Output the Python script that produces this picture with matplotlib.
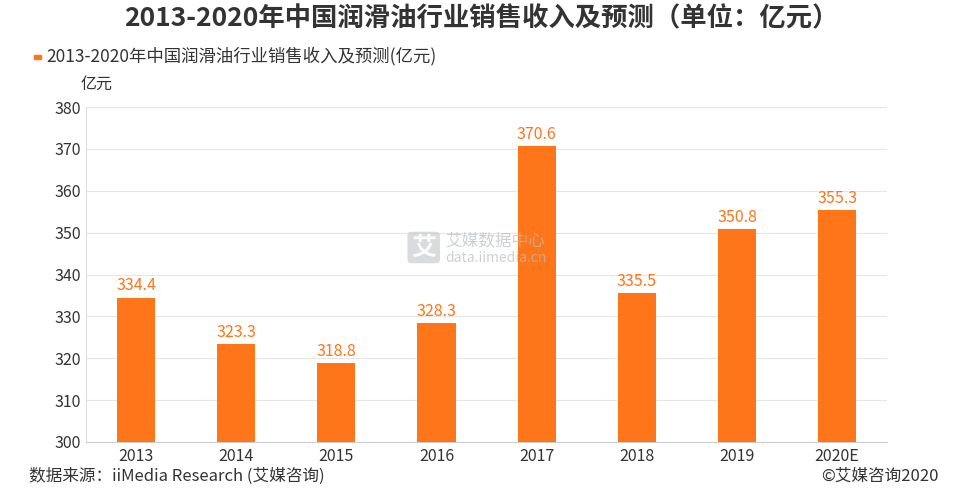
import matplotlib.pyplot as plt
from matplotlib.patches import Rectangle

plt.rcParams['font.family'] = ['Noto Sans CJK SC', 'DejaVu Sans']

years = ['2013', '2014', '2015', '2016', '2017', '2018', '2019', '2020E']
sales = [334.4, 323.3, 318.8, 328.3, 370.6, 335.5, 350.8, 355.3]

orange = '#FF7519'

fig = plt.figure(figsize=(9.63, 5.0), dpi=100)
ax = fig.add_axes([0.0893, 0.116, 0.832, 0.670])

x = range(len(years))
ax.bar(x, sales, width=0.38, color=orange, zorder=3)
for i, v in zip(x, sales):
    ax.text(i, v + 0.9, f'{v:.1f}', ha='center', va='bottom', color=orange, fontsize=11.5)

ax.set_xlim(-0.5, len(years) - 0.5)
ax.set_ylim(300, 380)
ax.set_yticks(range(300, 381, 10))
ax.set_xticks(list(x))
ax.set_xticklabels(years)
ax.tick_params(axis='both', length=0, labelsize=11.5, colors='#333333')
ax.tick_params(axis='x', pad=4)
ax.grid(axis='y', color='#E6E6E6', lw=0.8, zorder=0)
for s in ['top', 'right']:
    ax.spines[s].set_visible(False)
ax.spines['left'].set_color('#E0E0E0')
ax.spines['bottom'].set_color('#CCCCCC')

fig.text(0.5, 0.962, '2013-2020年中国润滑油行业销售收入及预测（单位：亿元）',
         ha='center', va='center', fontsize=19, fontweight='bold', color='#333333')
fig.patches.append(Rectangle((0.035, 0.883), 0.008, 0.008, transform=fig.transFigure,
                             color=orange))
fig.text(0.048, 0.887, '2013-2020年中国润滑油行业销售收入及预测(亿元)',
         ha='left', va='center', fontsize=12.5, color='#333333')
fig.text(0.084, 0.832, '亿元', ha='left', va='center', fontsize=11.5, color='#333333')

fig.text(0.03, 0.048, '数据来源：iiMedia Research (艾媒咨询)', ha='left', va='center',
         fontsize=12, color='#333333')
fig.text(0.975, 0.048, '©艾媒咨询2020', ha='right', va='center',
         fontsize=12, color='#333333')

# watermark
fig.text(0.44, 0.505, '艾', ha='center', va='center', fontsize=18, color='white',
         fontweight='bold', alpha=0.9,
         bbox=dict(boxstyle='round,pad=0.15', fc='#C9CDD0', ec='none', alpha=0.7), zorder=10)
fig.text(0.462, 0.518, '艾媒数据中心', ha='left', va='center', fontsize=12,
         color='#B8BDC0', alpha=0.7, zorder=10)
fig.text(0.462, 0.485, 'data.iimedia.cn', ha='left', va='center', fontsize=10,
         color='#B8BDC0', alpha=0.7, zorder=10)

fig.savefig('out.png', dpi=100)
